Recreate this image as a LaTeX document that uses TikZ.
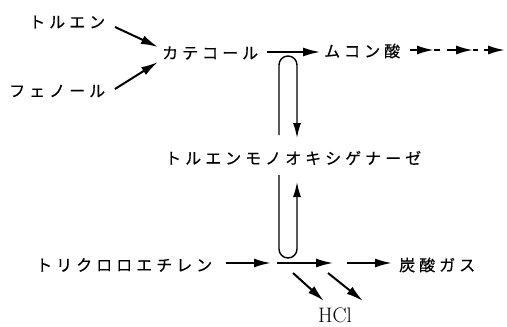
\documentclass[tikz,border=0pt]{standalone}
\usepackage{fontspec}
\newfontfamily\jp[FakeBold=0.4]{Noto Sans CJK JP}
\usetikzlibrary{arrows.meta}
\newlength\lskern \setlength\lskern{4pt}
\makeatletter
\def\ls#1{\ls@a#1\relax}
\def\ls@a#1{#1\futurelet\ls@next\ls@b}
\def\ls@b{\ifx\ls@next\relax\expandafter\ls@end\else\kern\lskern\expandafter\ls@a\fi}
\def\ls@end\relax{}
\makeatother
\tikzset{
  lbl/.style={inner sep=0pt,anchor=west,font=\jp\fontsize{16pt}{18pt}\selectfont},
  arr/.style={line width=2pt,-{Latex[length=17pt,width=9pt]}},
  thinarr/.style={line width=1.6pt,-{Latex[length=17pt,width=9pt]}},
  seg/.style={line width=2pt},
  looparr/.style={line width=1.4pt,-{Latex[length=15pt,width=8pt]}},
}
\begin{document}
\begin{tikzpicture}[x=1pt,y=-1pt]
\useasboundingbox (0,0) rectangle (507,327);
% labels
\node[lbl] (tol) at (29,22) {\ls{トルエン}};
\node[lbl] (phe) at (9,91) {\ls{フェノール}};
\node[lbl] (cat) at (162,53) {\ls{カテコール}};
\node[lbl] (muc) at (324,51) {\ls{ムコン酸}};
\node[lbl] (enz) at (165,158) {\ls{トルエンモノオキシゲナーゼ}};
\node[lbl] (tce) at (36,265) {\ls{トリクロロエチレン}};
\node[lbl] (co2) at (399,265) {\ls{炭酸ガス}};
\node[inner sep=0pt,font=\fontsize{21pt}{23pt}\selectfont] (hcl) at (335,315) {HCl};
% coordinates
\coordinate (t1) at (115,27);  \coordinate (t2) at (158,47);
\coordinate (p1) at (115,89);  \coordinate (p2) at (158,62);
\coordinate (c1) at (267,52);  \coordinate (c2) at (320,52);
\coordinate (d1a) at (410,50); \coordinate (d1b) at (434,50); \coordinate (d1c) at (440,50);
\coordinate (d2a) at (447,50); \coordinate (d2b) at (473,50); \coordinate (d2c) at (478,50);
\coordinate (d3a) at (484,50); \coordinate (d3b) at (505,50);
\coordinate (lt) at (279,65);  \coordinate (ltb) at (279,135);
\coordinate (rt) at (297,138);
\coordinate (lb) at (279,249); \coordinate (lbt) at (279,175);
\coordinate (rb) at (297,182);
\coordinate (e1) at (226,263); \coordinate (e2) at (271,263);
\coordinate (f1) at (277,263); \coordinate (f2) at (333,263);
\coordinate (g1) at (347,263); \coordinate (g2) at (392,263);
\coordinate (h1) at (293,273); \coordinate (h2) at (324,301);
\coordinate (k1) at (328,273); \coordinate (k2) at (363,301);
% arrows
\draw[arr] (t1) -- (t2);
\draw[arr] (p1) -- (p2);
\draw[thinarr] (c1) -- (c2);
\draw[arr] (d1a) -- (d1b); \draw[seg] (d1b) -- (d1c);
\draw[arr] (d2a) -- (d2b); \draw[seg] (d2b) -- (d2c);
\draw[arr] (d3a) -- (d3b);
% loop
\draw[looparr] (ltb) -- (lt) arc[start angle=180,end angle=0,radius=9pt] -- (rt);
\draw[looparr] (lbt) -- (lb) arc[start angle=180,end angle=360,radius=9pt] -- (rb);
% bottom
\draw[arr] (e1) -- (e2);
\draw[thinarr] (f1) -- (f2);
\draw[arr] (g1) -- (g2);
\draw[arr] (h1) -- (h2);
\draw[arr] (k1) -- (k2);
\end{tikzpicture}
\end{document}
